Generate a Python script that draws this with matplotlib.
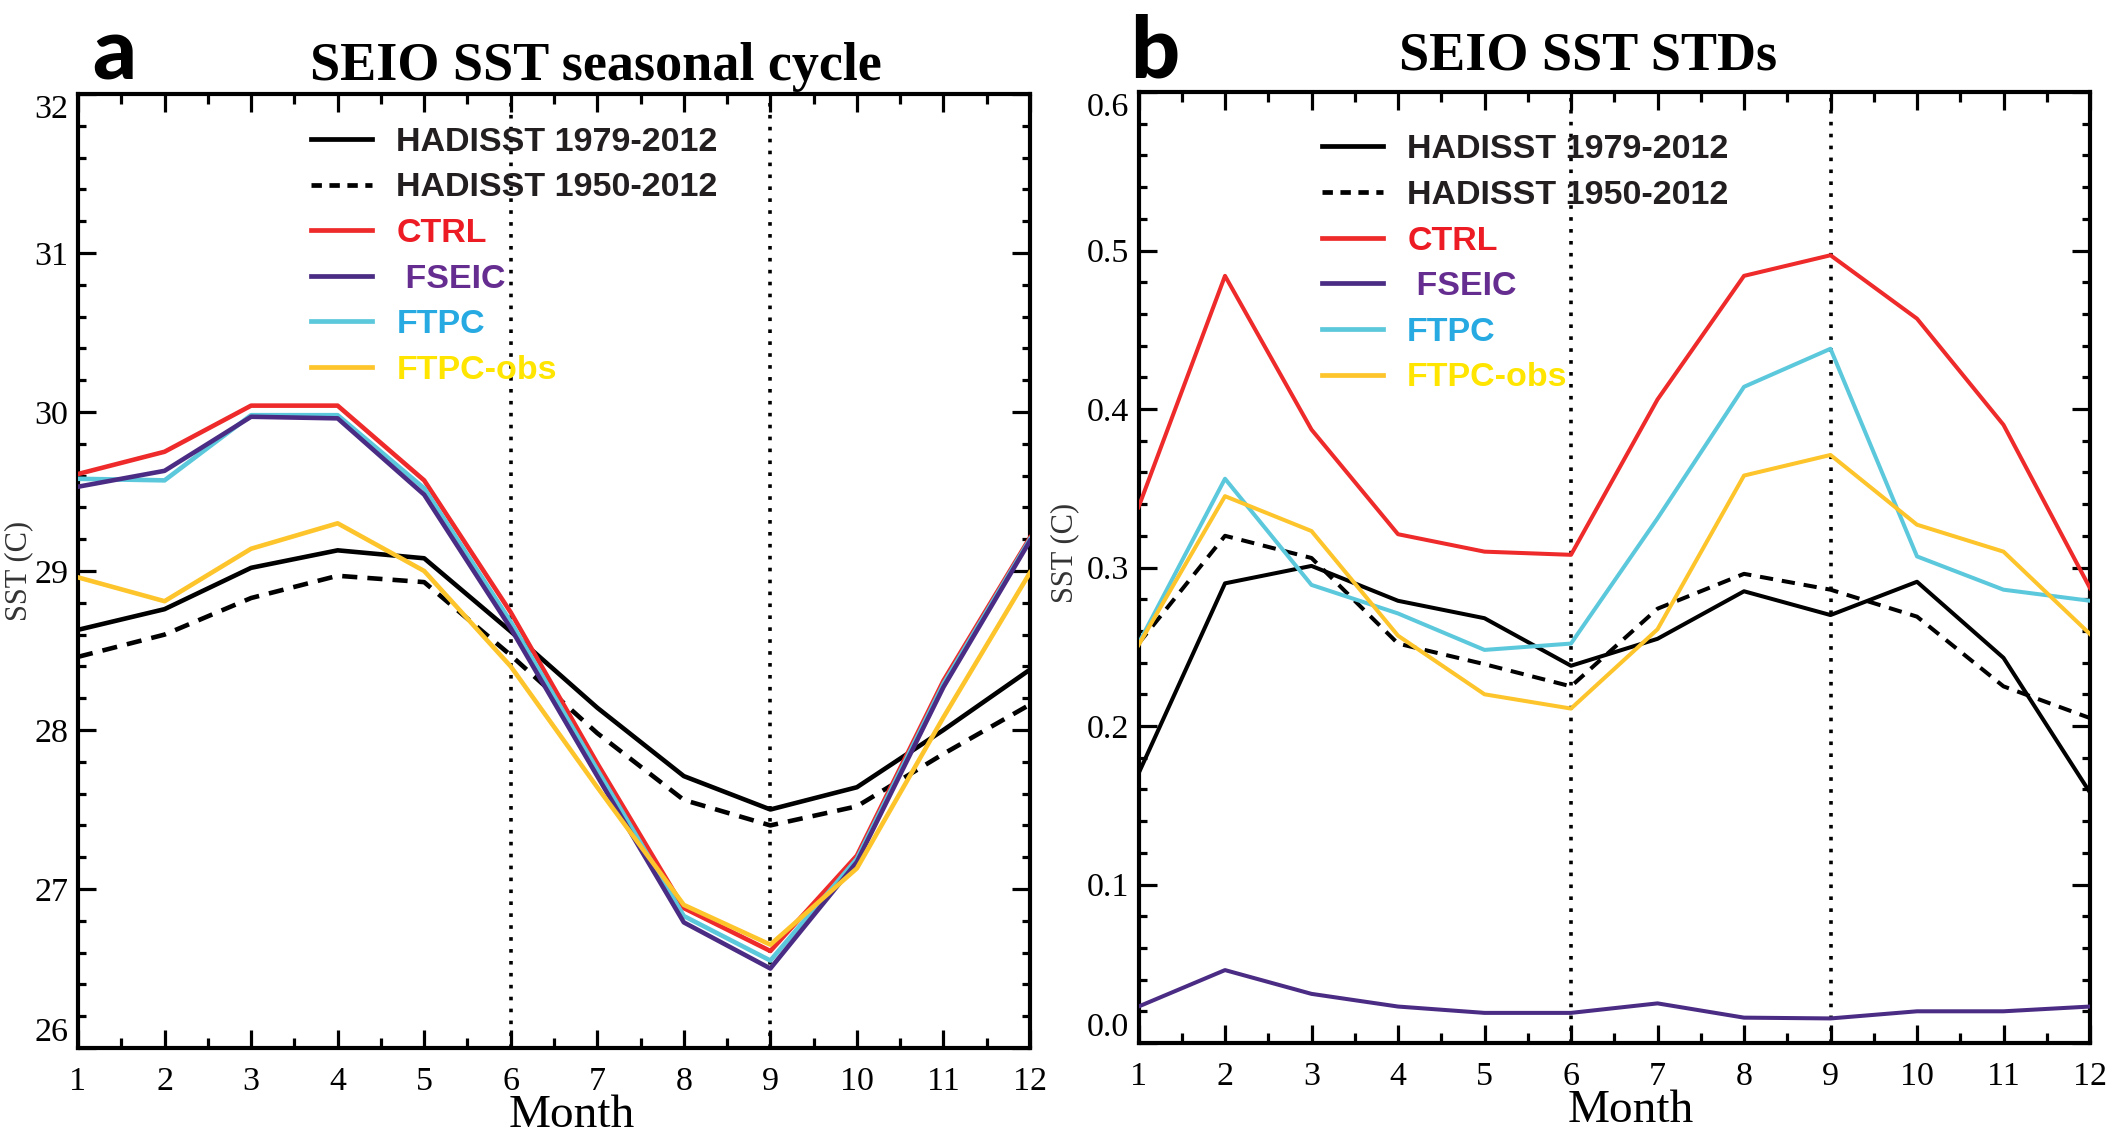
import matplotlib
matplotlib.use('Agg')
import matplotlib.pyplot as plt
from matplotlib.ticker import MultipleLocator, FixedLocator
from matplotlib.lines import Line2D

# ---------------- data ----------------
months = list(range(1, 13))
month_labels = [str(m) for m in months]

series_labels = ['HADISST 1979-2012', 'HADISST 1950-2012', 'CTRL', ' FSEIC', 'FTPC', 'FTPC-obs']

# panel a: SEIO SST seasonal cycle (deg C)
a_had_7912 = [28.63, 28.76, 29.02, 29.13, 29.08, 28.62, 28.14, 27.71, 27.50, 27.64, 28.00, 28.38]
a_had_5012 = [28.46, 28.60, 28.83, 28.97, 28.93, 28.47, 27.98, 27.56, 27.40, 27.52, 27.85, 28.16]
a_ctrl     = [29.61, 29.75, 30.04, 30.04, 29.57, 28.74, 27.79, 26.88, 26.61, 27.21, 28.31, 29.21]
a_fseic    = [29.53, 29.63, 29.97, 29.96, 29.48, 28.64, 27.71, 26.79, 26.50, 27.17, 28.27, 29.19]
a_ftpc     = [29.58, 29.57, 29.98, 29.98, 29.52, 28.68, 27.75, 26.83, 26.55, 27.19, 28.29, 29.20]
a_ftpc_obs = [28.96, 28.81, 29.14, 29.30, 29.00, 28.40, 27.64, 26.90, 26.65, 27.13, 28.08, 28.99]

# panel b: SEIO SST STDs (deg C)
b_had_7912 = [0.170, 0.290, 0.301, 0.279, 0.268, 0.238, 0.255, 0.285, 0.270, 0.291, 0.243, 0.158]
b_had_5012 = [0.252, 0.320, 0.306, 0.252, 0.239, 0.225, 0.274, 0.296, 0.286, 0.269, 0.225, 0.205]
b_ctrl     = [0.338, 0.484, 0.387, 0.321, 0.310, 0.308, 0.406, 0.484, 0.497, 0.457, 0.390, 0.287]
b_fseic    = [0.023, 0.046, 0.031, 0.023, 0.019, 0.019, 0.025, 0.016, 0.0155, 0.020, 0.020, 0.023]
b_ftpc     = [0.252, 0.356, 0.289, 0.271, 0.248, 0.252, 0.331, 0.414, 0.438, 0.307, 0.286, 0.279]
b_ftpc_obs = [0.251, 0.345, 0.323, 0.257, 0.220, 0.211, 0.261, 0.358, 0.371, 0.327, 0.310, 0.258]

a_yticks = [26, 27, 28, 29, 30, 31, 32]
b_yticks = [0.0, 0.1, 0.2, 0.3, 0.4, 0.5, 0.6]
b_ytick_labels = ['0.0', '0.1', '0.2', '0.3', '0.4', '0.5', '0.6']
marker_months = [6, 9]

# ---------------- style ----------------
c_red = '#EE2A2A'
c_pur = '#4B2C84'
c_cyan = '#5CC8DC'
c_yel = '#FDC52B'
text_cols = ['#231F20', '#231F20', '#ED1C24', '#662D91', '#27AAE1', '#FFE500']

serif = ['Liberation Serif', 'DejaVu Serif']
narrow = ['Liberation Sans Narrow', 'Liberation Sans', 'DejaVu Sans']

fig = plt.figure(figsize=(21.12, 11.33), dpi=100)
W, H = 2112, 1133

def ax_rect(l, r, t, b):
    return [l / W, 1 - b / H, (r - l) / W, (b - t) / H]

axA = fig.add_axes(ax_rect(78, 1030, 94, 1048))
axB = fig.add_axes(ax_rect(1138.5, 2090, 92, 1043))


def style_axes(ax, yticks, ylabels, yminor):
    ax.set_xlim(1, 12)
    ax.set_ylim(yticks[0], yticks[-1])
    ax.xaxis.set_major_locator(FixedLocator(months))
    ax.set_xticklabels(month_labels)
    ax.xaxis.set_minor_locator(MultipleLocator(0.5))
    ax.yaxis.set_major_locator(FixedLocator(yticks))
    ax.set_yticklabels(ylabels)
    ax.yaxis.set_minor_locator(MultipleLocator(yminor))
    for s in ax.spines.values():
        s.set_linewidth(3.0)
    ax.tick_params(which='both', direction='in', top=True, right=True, width=2.3)
    ax.tick_params(which='major', axis='x', length=13, pad=13)
    ax.tick_params(which='minor', axis='x', length=7)
    ax.tick_params(which='major', axis='y', length=13, pad=7)
    ax.tick_params(which='minor', axis='y', length=6)
    for lab in ax.get_xticklabels() + ax.get_yticklabels():
        lab.set_fontfamily(serif)
        lab.set_fontsize(24.5)
    ylabs = ax.get_yticklabels()
    ylabs[0].set_va('bottom')
    ylabs[-1].set_va('top')
    for m in marker_months:
        ax.axvline(m, color='black', lw=2.6, linestyle=(0, (1.0, 2.3)), zorder=1)


style_axes(axA, a_yticks, [str(v) for v in a_yticks], 0.2)
style_axes(axB, b_yticks, b_ytick_labels, 0.02)

# ---------------- lines ----------------
def draw(ax, data, lw):
    had1, had2, ctrl, fseic, ftpc, obs = data
    ax.plot(months, had1, color='black', lw=lw, zorder=3)
    ax.plot(months, had2, color='black', lw=lw, dashes=(3.3, 2.2), zorder=3)
    ax.plot(months, ctrl, color=c_red, lw=lw, zorder=4)
    ax.plot(months, ftpc, color=c_cyan, lw=lw, zorder=5)
    ax.plot(months, fseic, color=c_pur, lw=lw, zorder=6)
    ax.plot(months, obs, color=c_yel, lw=lw, zorder=7)


draw(axA, [a_had_7912, a_had_5012, a_ctrl, a_fseic, a_ftpc, a_ftpc_obs], 3.3)
draw(axB, [b_had_7912, b_had_5012, b_ctrl, b_fseic, b_ftpc, b_ftpc_obs], 2.9)

# ---------------- legends ----------------
def legend(ax, x, y, lw):
    handles = [
        Line2D([], [], color='black', lw=lw),
        Line2D([], [], color='black', lw=lw, dashes=(2.2, 1.6)),
        Line2D([], [], color=c_red, lw=lw),
        Line2D([], [], color=c_pur, lw=lw),
        Line2D([], [], color=c_cyan, lw=lw),
        Line2D([], [], color=c_yel, lw=lw),
    ]
    leg = ax.legend(handles, series_labels, loc='upper left', bbox_to_anchor=(x, y),
                    frameon=False, borderpad=0, borderaxespad=0,
                    handlelength=1.8, handletextpad=0.7, labelspacing=0.43,
                    prop={'family': narrow, 'weight': 'bold', 'size': 24.5},
                    labelcolor=text_cols)
    leg.set_zorder(10)
    return leg


legend(axA, 0.245, 0.9656, 3.4)
legend(axB, 0.193, 0.9555, 3.4)

# ---------------- labels / titles ----------------
for ax, xlab_x, ylab_x, ylab_y in [(axA, 0.519, -0.062, 0.50), (axB, 0.517, -0.078, 0.515)]:
    ax.set_xlabel('Month', fontfamily=serif, fontsize=34)
    ax.xaxis.label.set_va('center')
    ax.xaxis.set_label_coords(xlab_x, -0.071)
    ax.set_ylabel('SST (C)', fontfamily=serif, fontsize=22, color='#333333')
    ax.yaxis.label.set_va('center')
    ax.yaxis.set_label_coords(ylab_x, ylab_y)

fig.text(596 / W, 1 - 80 / H, 'SEIO SST seasonal cycle', ha='center', va='baseline',
         fontfamily=serif, fontweight='bold', fontsize=39)
fig.text(1588 / W, 1 - 70 / H, 'SEIO SST STDs', ha='center', va='baseline',
         fontfamily=serif, fontweight='bold', fontsize=39)

fig.text(92 / W, 1 - 79 / H, 'a', ha='left', va='baseline',
         fontfamily=['Lato', 'DejaVu Sans'], fontweight='black', fontsize=62)
fig.text(1130 / W, 1 - 77 / H, 'b', ha='left', va='baseline',
         fontfamily=['Lato', 'DejaVu Sans'], fontweight='black', fontsize=62)

fig.savefig('out.png', dpi=100)
